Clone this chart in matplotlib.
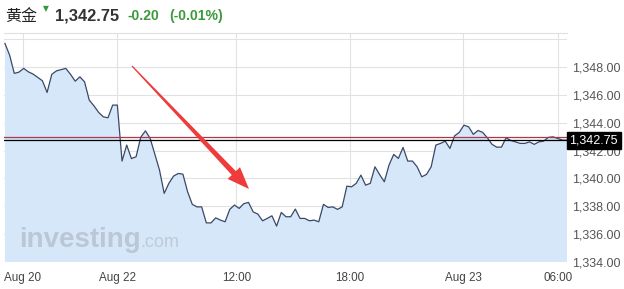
import numpy as np
import matplotlib
matplotlib.use('Agg')
import matplotlib.pyplot as plt
from matplotlib.patches import Polygon
from matplotlib.transforms import IdentityTransform, offset_copy

# Gold price, sampled along the chart (oldest -> newest)
prices = [
    1349.70, 1348.86, 1347.55, 1347.64, 1347.91, 1347.66, 1347.50, 1347.26, 1347.02, 1346.18,
    1347.48, 1347.73, 1347.82, 1347.91, 1347.48, 1346.99, 1347.30, 1346.94, 1345.63, 1345.22,
    1344.75, 1344.43, 1344.36, 1345.27, 1345.27, 1341.25, 1342.40, 1341.43, 1341.56, 1342.97,
    1343.42, 1342.88, 1341.75, 1340.60, 1338.93, 1339.65, 1340.17, 1340.36, 1340.31, 1339.04,
    1338.14, 1337.96, 1337.96, 1336.81, 1336.81, 1337.17, 1337.01, 1336.89, 1337.78, 1338.09,
    1337.85, 1338.19, 1338.28, 1337.60, 1337.44, 1336.96, 1337.13, 1337.32, 1336.58, 1337.56,
    1337.25, 1337.25, 1337.80, 1337.13, 1337.13, 1336.96, 1337.01, 1336.89, 1338.14, 1337.92,
    1337.96, 1337.78, 1337.96, 1339.45, 1339.40, 1339.65, 1340.24, 1339.52, 1339.65, 1340.84,
    1340.28, 1339.76, 1340.96, 1341.73, 1341.44, 1342.23, 1341.25, 1341.25, 1340.84, 1340.12,
    1340.29, 1340.84, 1342.40, 1342.52, 1342.68, 1342.16, 1343.06, 1343.31, 1343.83, 1343.71,
    1343.17, 1343.45, 1343.31, 1342.92, 1342.45, 1342.25, 1342.25, 1342.92, 1342.73, 1342.63,
    1342.52, 1342.52, 1342.63, 1342.45, 1342.63, 1342.68, 1342.95, 1342.99, 1342.88, 1342.76,
    1342.75,
]
last_price = 1342.75
change = -0.20
change_pct = -0.01

x_labels = ['Aug 20', 'Aug 22', '12:00', '18:00', 'Aug 23', '06:00']
x_label_pos = [3.85, 23.96, 49.4, 73.6, 97.8, 118.1]  # in sample index units
y_ticks = np.arange(1334, 1350, 2)

prev_close = last_price - change
x = np.arange(len(prices))

W, H = 624, 289
fig = plt.figure(figsize=(W / 100, H / 100), dpi=100)
ax = fig.add_axes([4 / W, 27 / H, 563 / W, 229 / H])

ax.fill_between(x, prices, 1300, color='#d6e7fa', lw=0)
ax.plot(x, prices, color='#3b4866', lw=0.9)

ax.set_xlim(-0.2, len(prices) - 1)
ax.set_ylim(1334, 1350.45)

# grid
for yv in np.arange(1334, 1351, 2):
    ax.axhline(yv, color='#e2e2e2', lw=0.8, zorder=0.5)
for xv in x_label_pos:
    ax.axvline(xv, color='#e2e2e2', lw=0.8, zorder=0.5)

# last price / previous close lines
ax.axhline(prev_close, color='#a8384a', lw=0.9)
ax.axhline(last_price, color='black', lw=0.9)

for s in ['left', 'right', 'bottom']:
    ax.spines[s].set_visible(False)
ax.spines['top'].set_color('#e0e0e0')
ax.spines['top'].set_linewidth(0.8)

ax.yaxis.tick_right()
ax.set_yticks(y_ticks)
ax.set_yticklabels([f'{v:,.2f}' for v in y_ticks], fontsize=9,
                   color='#555555', family='Liberation Sans')
ax.tick_params(axis='y', length=0, pad=4)
ax.set_xticks(x_label_pos)
ax.set_xticklabels(x_labels, fontsize=8.4, color='#444444', family='Liberation Sans')
ax.tick_params(axis='x', length=0, pad=7)

# price tag on the right axis
tag_tr = offset_copy(ax.get_yaxis_transform(), fig=fig, x=2.5, units='dots')
ax.text(1.0, last_price, f'{last_price:,.2f}', transform=tag_tr,
        ha='left', va='center', fontsize=9, color='white', family='Liberation Sans',
        bbox=dict(boxstyle='square,pad=0.2', fc='black', ec='black'), clip_on=False)

# watermark
ax.text(0.027, 0.065, 'investing', transform=ax.transAxes, fontsize=20, fontweight='bold',
        color='#bcc7d6', family='Liberation Sans', va='baseline', zorder=1)
ax.text(0.242, 0.065, '.com', transform=ax.transAxes, fontsize=13,
        color='#c0cbda', family='Liberation Sans', va='baseline', zorder=1)

# header
fig.text(5 / W, 1 - 16 / H, '黄金', fontsize=11.5, family=['Noto Sans CJK SC', 'DejaVu Sans'],
         color='#222222', va='center')
fig.text(43 / W, 1 - 9 / H, '▼', fontsize=5.5, color='#2e9a3a', va='center')
fig.text(55 / W, 1 - 16 / H, f'{last_price:,.2f}', fontsize=11.8, fontweight='bold',
         family='Liberation Sans', color='#333333', va='center')
fig.text(127 / W, 1 - 16 / H, f'{change:.2f}', fontsize=10.1, fontweight='bold',
         family='Liberation Sans', color='#3a9a3a', va='center')
fig.text(169 / W, 1 - 16 / H, f'({change_pct:.2f}%)', fontsize=10.1, fontweight='bold',
         family='Liberation Sans', color='#3a9a3a', va='center')

# red arrow (drawn in pixel space, y measured from the top)
start = np.array([132.0, 66.0])
tip = np.array([249.0, 189.0])
u = (tip - start) / np.linalg.norm(tip - start)
n = np.array([-u[1], u[0]])
base = tip - 22 * u
pts = [start + 0.6 * n, base + 2.8 * n, base + 8.5 * n, tip,
       base - 8.5 * n, base - 2.8 * n, start - 0.6 * n]
pts = np.array([[p[0], H - p[1]] for p in pts])
fig.add_artist(Polygon(pts, closed=True, color='#ee3b3b', lw=0,
                       transform=IdentityTransform()))

fig.savefig('out.png', dpi=100)
